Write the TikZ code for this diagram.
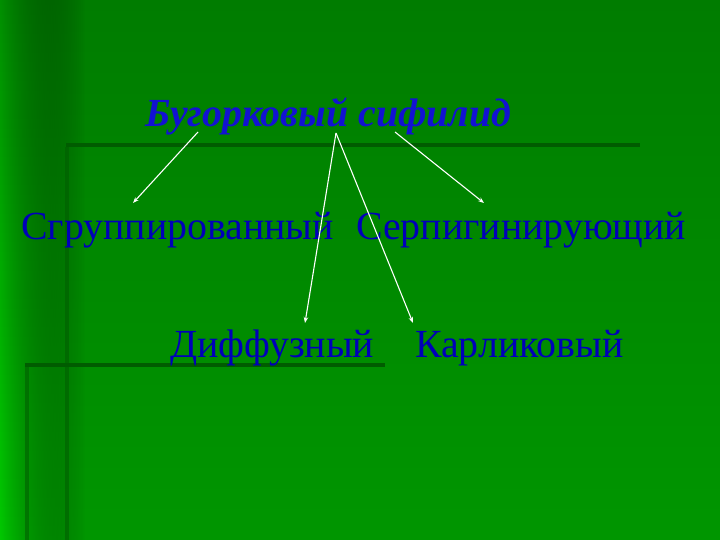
\documentclass[tikz,border=0pt]{standalone}
\usepackage{fontspec}
\setmainfont{Liberation Serif}
\usetikzlibrary{arrows.meta,fadings}
\definecolor{bgtop}{RGB}{0,124,0}
\definecolor{bgbot}{RGB}{0,150,0}
\definecolor{bgleft}{RGB}{0,200,0}
\definecolor{rulecol}{RGB}{0,92,0}
\definecolor{titleblue}{RGB}{18,18,210}
\definecolor{kindblue}{RGB}{0,0,185}
\tikzset{
  heading/.style={anchor=base west,inner sep=0pt,text=titleblue,
    font=\fontsize{40}{46}\selectfont\bfseries\itshape},
  kind/.style={anchor=base west,inner sep=0pt,text=kindblue,
    font=\fontsize{40}{46}\selectfont},
  link/.style={draw=white,line width=1.1pt,-{Stealth[length=6pt,width=4.5pt]}},
  deco/.style={draw=rulecol,line width=4pt}
}

\begin{document}
\begin{tikzpicture}[x=1bp,y=-1bp]
  \useasboundingbox (0,0) rectangle (720,540);
  % background
  \fill[top color=bgtop,bottom color=bgbot] (0,0) rectangle (720,540);
  \fill[top color=bgtop!75!bgleft,bottom color=bgleft,path fading=east]
    (0,0) rectangle (85,540);
  % frame lines of the slide
  \draw[deco] (66,145) -- (640,145);
  \draw[deco,draw opacity=0.55] (67,147) -- (67,540);
  \draw[deco] (25,365) -- (385,365);
  \draw[deco,draw opacity=0.55] (27,367) -- (27,540);

  % title and kinds
  \node[heading] (tub) at (145,127) {Бугорковый сифилид};
  \node[kind] (grp) at (21,240) {Сгруппированный};
  \node[kind] (serp) at (356,240) {Серпигинирующий};
  \node[kind] (diff) at (170,357) {Диффузный};
  \node[kind] (karl) at (415,357) {Карликовый};

  % arrows
  \draw[link] ([shift={(53,5)}]tub.base west) -- ([shift={(112,-37)}]grp.base west);
  \draw[link] ([shift={(191,6)}]tub.base west) -- ([shift={(135,-34)}]diff.base west);
  \draw[link] ([shift={(191,6)}]tub.base west) -- ([shift={(-2,-34)}]karl.base west);
  \draw[link] ([shift={(250,5)}]tub.base west) -- ([shift={(128,-37)}]serp.base west);
\end{tikzpicture}
\end{document}
